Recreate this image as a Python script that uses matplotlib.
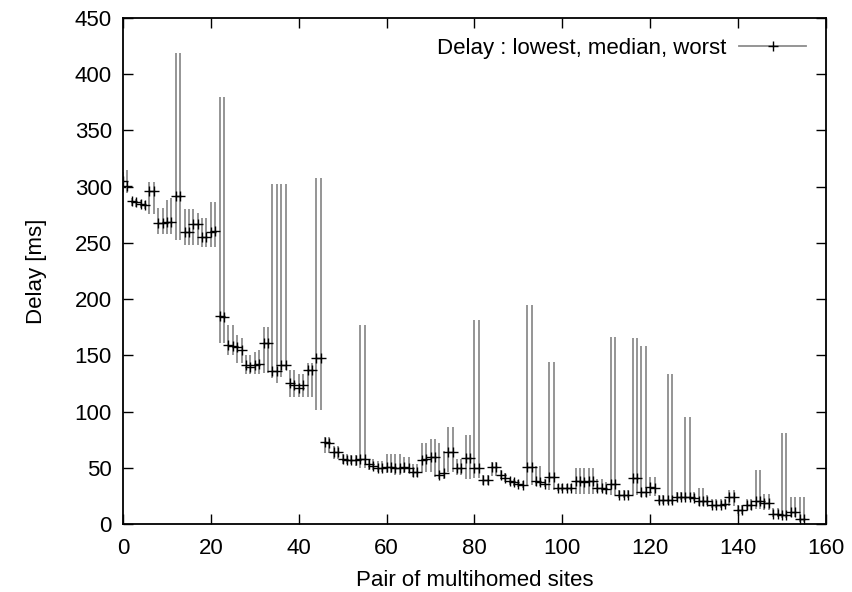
import matplotlib
matplotlib.use("Agg")
import matplotlib.pyplot as plt
from matplotlib.lines import Line2D
import numpy as np

# delay per pair of multihomed sites [ms]
median = [305, 301, 287, 286, 285, 284, 296, 296, 268, 268,
          269, 269, 292, 292, 260, 260, 267, 267, 255, 255,
          260, 261, 185, 184, 159, 158, 157, 155, 141, 140,
          141, 142, 161, 161, 136, 136, 141, 141, 125, 124,
          121, 124, 137, 137, 148, 148, 73, 72, 64, 64,
          58, 57, 57, 57, 58, 58, 53, 52, 50, 50,
          51, 51, 50, 50, 51, 50, 46, 46, 57, 58,
          60, 60, 44, 45, 64, 64, 50, 50, 59, 59,
          50, 50, 39, 39, 51, 51, 44, 41, 38, 37,
          36, 35, 51, 51, 38, 37, 36, 42, 42, 32,
          32, 32, 32, 38, 38, 37, 38, 38, 32, 32,
          31, 36, 36, 26, 26, 26, 41, 41, 28, 28,
          33, 32, 21, 21, 21, 21, 24, 24, 24, 24,
          23, 20, 20, 20, 17, 17, 17, 18, 24, 24,
          12, 12, 17, 17, 20, 20, 19, 19, 9, 9,
          8, 8, 11, 11, 4, 4]
lowest = [295, 294, 283, 282, 281, 280, 276, 276, 258, 258,
          258, 258, 253, 253, 248, 248, 248, 248, 246, 246,
          246, 246, 161, 161, 150, 150, 143, 143, 133, 133,
          133, 133, 134, 134, 130, 125, 131, 137, 113, 113,
          113, 113, 113, 113, 101, 101, 63, 63, 58, 58,
          53, 53, 53, 52, 50, 50, 48, 48, 46, 46,
          45, 45, 44, 44, 45, 45, 42, 42, 46, 46,
          46, 42, 40, 40, 46, 46, 44, 44, 40, 40,
          41, 41, 35, 35, 43, 43, 40, 37, 35, 34,
          33, 32, 35, 35, 34, 34, 33, 30, 30, 29,
          29, 29, 29, 27, 27, 27, 27, 27, 28, 28,
          27, 26, 26, 23, 23, 23, 26, 26, 24, 24,
          25, 25, 18, 18, 18, 18, 21, 21, 21, 21,
          20, 16, 16, 17, 14, 14, 14, 15, 16, 16,
          9, 9, 12, 12, 13, 13, 12, 12, 6, 6,
          5, 5, 6, 6, 2, 2]
worst = [313, 315, 290, 289, 288, 287, 304, 304, 281, 281,
         288, 290, 419, 419, 280, 280, 280, 277, 272, 272,
         286, 286, 380, 380, 177, 177, 168, 165, 150, 150,
         153, 155, 175, 175, 302, 302, 302, 302, 137, 137,
         133, 133, 143, 143, 308, 308, 77, 77, 69, 69,
         62, 62, 61, 61, 177, 177, 58, 58, 56, 56,
         62, 62, 62, 62, 60, 60, 53, 53, 72, 72,
         76, 76, 72, 65, 86, 86, 58, 58, 79, 79,
         181, 181, 44, 44, 55, 55, 48, 45, 41, 40,
         39, 38, 195, 195, 52, 52, 40, 144, 144, 36,
         36, 36, 36, 50, 50, 50, 50, 50, 40, 40,
         37, 166, 166, 30, 30, 30, 165, 165, 158, 158,
         42, 42, 26, 26, 133, 133, 28, 28, 95, 95,
         28, 32, 32, 26, 22, 22, 22, 22, 30, 30,
         17, 17, 22, 22, 48, 48, 27, 27, 14, 14,
         81, 81, 24, 24, 24, 24]

pairs = np.arange(len(median))

plt.rcParams['font.family'] = ['Liberation Sans', 'DejaVu Sans']

fig = plt.figure(figsize=(8.53, 5.92), dpi=100)
ax = fig.add_axes([0.1442, 0.1149, 0.8241, 0.8547])

ax.vlines(pairs, lowest, worst, color='#8c8c8c', linewidth=1.3)
ax.plot(pairs, median, linestyle='none', marker='+', color='black',
        markersize=7, markeredgewidth=1.0)

ax.set_xlim(0, 160)
ax.set_ylim(0, 450)
ax.set_xticks(range(0, 161, 20))
ax.set_yticks(range(0, 451, 50))
ax.tick_params(direction='in', length=7, width=1, top=True, right=True,
               labelsize=16)
ax.tick_params(axis='x', pad=10)
ax.tick_params(axis='y', pad=8)
for s in ax.spines.values():
    s.set_linewidth(1.3)

ax.set_xlabel("Pair of multihomed sites", fontsize=16, labelpad=8)
ax.set_ylabel("Delay [ms]", fontsize=16, labelpad=20)

handle = Line2D([], [], color='#8c8c8c', linewidth=1.3, marker='+',
                markeredgecolor='black', markersize=7)
ax.legend([handle], ["Delay : lowest, median, worst"], loc='upper right',
          frameon=False, markerfirst=False, fontsize=16, handlelength=3.0,
          handletextpad=0.6, borderaxespad=0.5)

fig.savefig("out.png", dpi=100)
